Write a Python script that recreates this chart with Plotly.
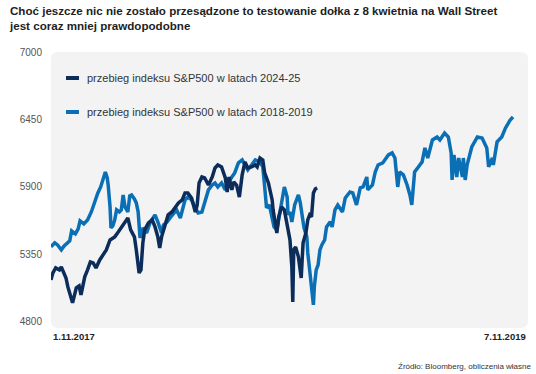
import plotly.graph_objects as go

# session index (trading days since 1.11.2017) and index level
dark_x = [0, 2, 5, 9, 11, 14, 16, 18, 21, 23,
          27, 30, 32, 36, 39, 42, 45, 48, 52, 55,
          59, 63, 68, 71, 75, 79, 82, 85, 89, 91,
          94, 96, 97, 98, 100, 104, 108, 111, 114, 116,
          118, 122, 125, 129, 132, 136, 140, 143, 146, 150,
          154, 156, 158, 161, 164, 168, 172, 175, 178, 182,
          186, 188, 190, 193, 195, 198, 201, 204, 207, 210,
          214, 218, 220, 223, 226, 228, 232, 234, 236, 237,
          239, 241, 243, 246, 249, 251, 253, 255, 257, 258,
          259, 261, 264, 265, 267, 268, 269, 272, 274, 276,
          278, 280, 282, 284]
dark_y = [5142, 5199, 5240, 5224, 5248, 5191, 5158, 5085, 5004, 4955,
          5077, 5093, 5020, 5167, 5224, 5289, 5281, 5240, 5305, 5346,
          5387, 5468, 5493, 5525, 5566, 5615, 5647, 5550, 5493, 5387,
          5199, 5224, 5330, 5444, 5550, 5607, 5631, 5574, 5493, 5403,
          5493, 5590, 5672, 5696, 5729, 5770, 5794, 5851, 5851, 5810,
          5696, 5753, 5933, 5981, 5973, 5916, 5981, 6055, 6079, 6063,
          5973, 5859, 5981, 5876, 5941, 5916, 5818, 5998, 6104, 6055,
          6063, 6079, 6063, 6136, 6120, 6014, 5933, 5851, 5794, 5713,
          5607, 5525, 5656, 5737, 5713, 5631, 5574, 5468, 5248, 4963,
          5387, 5411, 5330, 5281, 5158, 5305, 5444, 5525, 5631, 5672,
          5656, 5851, 5884, 5892]

light_x = [0, 4, 7, 11, 14, 17, 20, 22, 26, 29,
           31, 35, 39, 43, 45, 48, 50, 53, 55, 58,
           60, 61, 63, 64, 66, 68, 70, 73, 75, 77,
           79, 82, 84, 86, 89, 91, 93, 95, 98, 102,
           106, 111, 114, 118, 120, 124, 127, 130, 134, 138,
           140, 143, 146, 150, 154, 157, 161, 164, 168, 172,
           175, 178, 182, 186, 189, 193, 196, 200, 204, 207,
           210, 214, 218, 223, 226, 228, 230, 233, 236, 238,
           241, 244, 246, 249, 252, 253, 255, 257, 260, 264,
           266, 268, 270, 273, 274, 276, 278, 280, 281, 283,
           285, 287, 289, 292, 294, 298, 300, 303, 306, 311,
           314, 319, 322, 326, 330, 333, 337, 338, 343, 346,
           349, 354, 360, 364, 367, 370, 372, 376, 380, 383,
           385, 388, 392, 396, 399, 402, 407, 412, 415, 420,
           424, 427, 428, 430, 433, 435, 439, 440, 442, 444,
           449, 455, 460, 463, 465, 467, 471, 472, 476, 481,
           485, 490, 493]
light_y = [5411, 5444, 5427, 5387, 5419, 5436, 5460, 5541, 5517, 5558,
           5623, 5599, 5631, 5696, 5745, 5802, 5851, 5900, 5957, 6022,
           5973, 5916, 5737, 5566, 5582, 5631, 5713, 5696, 5713, 5835,
           5737, 5696, 5827, 5835, 5802, 5770, 5696, 5484, 5566, 5525,
           5615, 5672, 5615, 5525, 5590, 5615, 5647, 5672, 5713, 5647,
           5713, 5794, 5818, 5794, 5729, 5688, 5696, 5770, 5876, 5916,
           5933, 5900, 5933, 5876, 5933, 5981, 6014, 6096, 6120, 6079,
           6039, 6079, 6120, 6104, 6063, 5900, 5729, 5753, 5656, 5574,
           5550, 5672, 5770, 5900, 5818, 5672, 5696, 5615, 5753, 5835,
           5770, 5647, 5566, 5493, 5362, 5224, 5061, 4939, 5085, 5224,
           5264, 5387, 5427, 5468, 5574, 5615, 5574, 5713, 5753, 5696,
           5810, 5859, 5851, 5753, 5892, 5900, 5981, 5876, 5916, 6022,
           6079, 6096, 6161, 6177, 6136, 5900, 6022, 5998, 5916, 5835,
           5753, 6022, 6063, 6104, 6218, 6136, 6283, 6307, 6283, 6340,
           6307, 6177, 5957, 6161, 5981, 6136, 5981, 6136, 5957, 6079,
           6226, 6307, 6299, 6259, 6218, 6063, 6136, 6079, 6267, 6307,
           6381, 6446, 6470]

y_ticks = [4800, 5350, 5900, 6450, 7000]
name_dark = "przebieg indeksu S&P500 w latach 2024-25"
name_light = "przebieg indeksu S&P500 w latach 2018-2019"
date_start = "1.11.2017"
date_end = "7.11.2019"
title = ("Choć jeszcze nic nie zostało przesądzone to testowanie dołka z 8 kwietnia na Wall Street"
         "<br>jest coraz mniej prawdopodobne")
source = "Źródło: Bloomberg, obliczenia własne"

C_DARK = "#0c2d5a"
C_LIGHT = "#0b6fb6"
FONT = "Liberation Sans Narrow, Arial Narrow, Liberation Sans, sans-serif"

W, H = 536, 374
ML, MR, MT, MB = 51, 8, 52, 46
pw, ph = W - ML - MR, H - MT - MB

fig = go.Figure()
fig.add_trace(go.Scatter(x=light_x, y=light_y, mode="lines", name=name_light,
                         line=dict(color=C_LIGHT, width=3.5), showlegend=False))
fig.add_trace(go.Scatter(x=dark_x, y=dark_y, mode="lines", name=name_dark,
                         line=dict(color=C_DARK, width=3.5), showlegend=False))

rx, ry = 7 / pw, 7 / ph
path = (f"M {rx},0 L {1-rx},0 Q 1,0 1,{ry} L 1,{1-ry} Q 1,1 {1-rx},1 "
        f"L {rx},1 Q 0,1 0,{1-ry} L 0,{ry} Q 0,0 {rx},0 Z")
shapes = [dict(type="path", path=path, xref="paper", yref="paper",
               fillcolor="#f3f3f3", line=dict(width=0), layer="below")]

def px(x):
    return (x - ML) / pw

def py(y):
    return 1 - (y - MT) / ph

annotations = [dict(text=f"<b>{title}</b>", xref="paper", yref="paper",
                    x=px(7), y=py(1.5), xanchor="left", yanchor="top", align="left",
                    showarrow=False,
                    font=dict(size=11.6, color="#1e1e1e", family=FONT))]
for yy, name, col in [(78, name_dark, C_DARK), (112, name_light, C_LIGHT)]:
    shapes.append(dict(type="line", xref="paper", yref="paper",
                       x0=px(66), x1=px(79), y0=py(yy), y1=py(yy),
                       line=dict(color=col, width=4)))
    annotations.append(dict(text=name, xref="paper", yref="paper",
                            x=px(85), y=py(yy), xanchor="left", yanchor="middle",
                            showarrow=False, font=dict(size=11, color="#333333", family=FONT)))

annotations.append(dict(text=f"<b>{date_start}</b>", xref="paper", yref="paper",
                        x=0, y=py(336), xanchor="left", yanchor="middle", showarrow=False,
                        font=dict(size=9.5, color="#222222", family=FONT)))
annotations.append(dict(text=f"<b>{date_end}</b>", xref="paper", yref="paper",
                        x=1, y=py(336), xanchor="right", yanchor="middle", showarrow=False,
                        font=dict(size=9.5, color="#222222", family=FONT)))
annotations.append(dict(text=source, xref="paper", yref="paper",
                        x=px(534), y=py(366), xanchor="right", yanchor="middle", showarrow=False,
                        font=dict(size=8, color="#333333", family=FONT)))

fig.update_layout(
    width=W, height=H,
    margin=dict(l=ML, r=MR, t=MT, b=MB),
    paper_bgcolor="white", plot_bgcolor="rgba(0,0,0,0)",
    xaxis=dict(range=[0, 509], showgrid=False, zeroline=False, showline=False,
               showticklabels=False, ticks=""),
    yaxis=dict(range=[4750, 7000], tickvals=y_ticks, showgrid=False, zeroline=False,
               showline=False, ticks="outside", ticklen=6, tickcolor="rgba(0,0,0,0)",
               tickfont=dict(size=10, color="#555555", family=FONT)),
    shapes=shapes, annotations=annotations, showlegend=False,
)

fig.write_html("out.html", config={"displayModeBar": False},
               post_script="document.body.style.margin='0';")
